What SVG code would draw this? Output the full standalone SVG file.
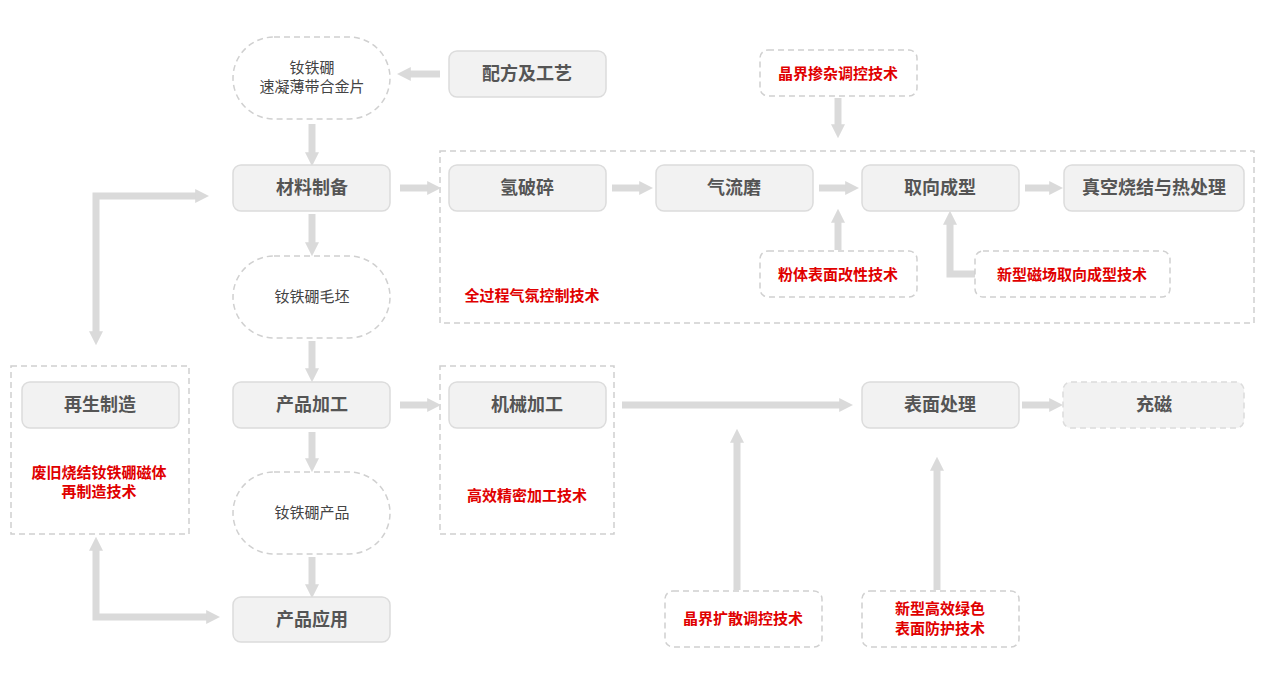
<svg xmlns="http://www.w3.org/2000/svg" width="1269" height="688" viewBox="0 0 1269 688">
<style>
.n{fill:#f2f2f2;stroke:#dcdcdc;stroke-width:1.5}
.o{fill:#fff;stroke:#d0d0d0;stroke-width:1.5;stroke-dasharray:6 4}
.d{fill:none;stroke:#d0d0d0;stroke-width:1.5;stroke-dasharray:6 4}
.t{font-family:"Noto Sans CJK SC",sans-serif;font-size:18px;font-weight:bold;fill:#555;text-anchor:middle}
.s{font-family:"Noto Sans CJK SC",sans-serif;font-size:15px;fill:#444;text-anchor:middle}
.r{font-family:"Noto Sans CJK SC",sans-serif;font-size:15px;font-weight:bold;fill:#e00000;text-anchor:middle}
.a{fill:none;stroke:#dadada;stroke-width:7;marker-end:url(#h)}
</style>
<defs>
<marker id="h" viewBox="0 0 10 10" refX="2" refY="5" markerWidth="2" markerHeight="2.4" orient="auto-start-reverse"><path d="M0,0L10,5L0,10z" fill="#dadada"/></marker>
</defs>
<rect class="d" x="440" y="151" width="814" height="172"/>
<rect class="d" x="440" y="366" width="174" height="168"/>
<rect class="d" x="11" y="366" width="178" height="168"/>
<g id="connectors">
<path class="a" d="M440,74H408"/>
<path class="a" d="M312,124V155"/>
<path class="a" d="M400,188H430"/>
<path class="a" d="M612,188H642"/>
<path class="a" d="M819,188H848"/>
<path class="a" d="M1025,188H1052"/>
<path class="a" d="M838,98V127"/>
<path class="a" d="M838,250V220"/>
<path class="a" d="M975,274H950V222"/>
<path class="a" d="M312,214V245"/>
<path class="a" d="M312,341V371"/>
<path class="a" d="M312,432V461"/>
<path class="a" d="M312,557V587"/>
<path class="a" d="M400,405H430"/>
<path class="a" d="M622,405H842"/>
<path class="a" d="M1022,405H1052"/>
<path class="a" d="M737,590V440"/>
<path class="a" d="M937,590V468"/>
<path class="a" style="marker-start:url(#h)" d="M96,334V196H198"/>
<path class="a" style="marker-start:url(#h)" d="M96,548V617H209"/>
</g>
<g id="n1"><rect class="o" x="233" y="37" width="157" height="82" rx="41"/><text class="s" x="312" y="73">钕铁硼</text><text class="s" x="312" y="92">速凝薄带合金片</text></g>
<g id="n2"><rect class="n" x="449" y="51" width="157" height="46" rx="8"/><text class="t" x="527" y="80">配方及工艺</text></g>
<g id="n3"><rect class="n" x="233" y="165" width="157" height="46" rx="8"/><text class="t" x="312" y="194">材料制备</text></g>
<g id="n4"><rect class="n" x="449" y="165" width="157" height="46" rx="8"/><text class="t" x="527" y="194">氢破碎</text></g>
<g id="n5"><rect class="n" x="656" y="165" width="157" height="46" rx="8"/><text class="t" x="734" y="194">气流磨</text></g>
<g id="n6"><rect class="n" x="862" y="165" width="157" height="46" rx="8"/><text class="t" x="940" y="194">取向成型</text></g>
<g id="n7"><rect class="n" x="1064" y="165" width="180" height="46" rx="8"/><text class="t" x="1154" y="194">真空烧结与热处理</text></g>
<g id="n8"><rect class="o" x="760" y="50" width="157" height="46" rx="8"/><text class="r" x="838" y="79">晶界掺杂调控技术</text></g>
<g id="n9"><rect class="o" x="760" y="251" width="157" height="46" rx="8"/><text class="r" x="838" y="280">粉体表面改性技术</text></g>
<g id="n10"><rect class="o" x="975" y="251" width="195" height="46" rx="8"/><text class="r" x="1072" y="280">新型磁场取向成型技术</text></g>
<g id="n11"><text class="r" x="532" y="301">全过程气氛控制技术</text></g>
<g id="n12"><rect class="o" x="233" y="256" width="157" height="82" rx="41"/><text class="s" x="312" y="302">钕铁硼毛坯</text></g>
<g id="n13"><rect class="n" x="233" y="382" width="157" height="46" rx="8"/><text class="t" x="312" y="411">产品加工</text></g>
<g id="n14"><rect class="n" x="449" y="382" width="157" height="46" rx="8"/><text class="t" x="527" y="411">机械加工</text></g>
<g id="n15"><rect class="n" x="862" y="382" width="157" height="46" rx="8"/><text class="t" x="940" y="411">表面处理</text></g>
<g id="n16"><rect class="n" style="stroke-dasharray:6 4" x="1063" y="382" width="181" height="46" rx="8"/><text class="t" x="1154" y="411">充磁</text></g>
<g id="n17"><rect class="n" x="22" y="382" width="157" height="46" rx="8"/><text class="t" x="100" y="411">再生制造</text></g>
<g id="n18"><text class="r" x="99" y="478">废旧烧结钕铁硼磁体</text><text class="r" x="99" y="497">再制造技术</text></g>
<g id="n19"><text class="r" x="527" y="501">高效精密加工技术</text></g>
<g id="n20"><rect class="o" x="233" y="472" width="157" height="82" rx="41"/><text class="s" x="312" y="518">钕铁硼产品</text></g>
<g id="n21"><rect class="n" x="233" y="597" width="157" height="45" rx="8"/><text class="t" x="312" y="626">产品应用</text></g>
<g id="n22"><rect class="o" x="665" y="591" width="157" height="56" rx="8"/><text class="r" x="743" y="624">晶界扩散调控技术</text></g>
<g id="n23"><rect class="o" x="862" y="591" width="157" height="56" rx="8"/><text class="r" x="940" y="614">新型高效绿色</text><text class="r" x="940" y="634">表面防护技术</text></g>
</svg>
